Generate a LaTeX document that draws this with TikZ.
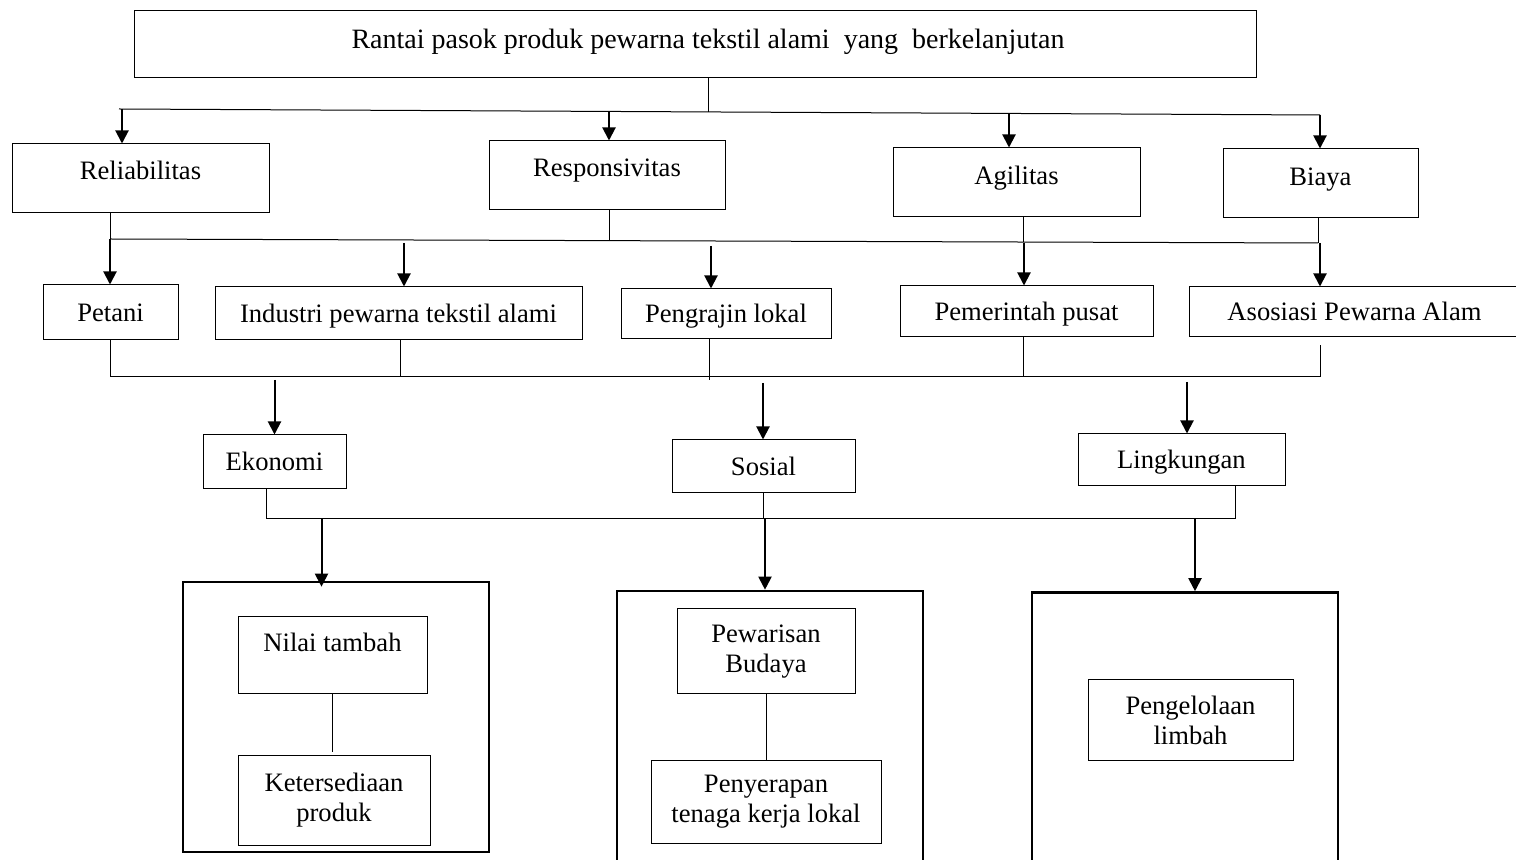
\documentclass[tikz,border=0pt]{standalone}
\usepackage{fontspec}
\setmainfont{Liberation Serif}
\usetikzlibrary{arrows.meta}

\begin{document}
\begin{tikzpicture}[x=0.5pt, y=-0.5pt, >={Triangle[width=6.5pt, length=6.5pt]},
    box/.style={draw, line width=0.5pt, inner sep=0pt, align=center, font=\fontsize{13.3}{15}\selectfont},
    single/.style={text height=10pt, text depth=1pt},
    panel/.style={draw, line width=1.3pt, inner sep=0pt},
    link/.style={line width=0.5pt},
    arr/.style={->, line width=1pt}]
                \useasboundingbox (0,0) rectangle (1516,860);
                % top
                \node[box, single, text depth=5.5pt, font=\fontsize{14}{15}\selectfont, minimum width=561pt, minimum height=33.5pt] (rantai) at (695,44.5) {\hspace*{13pt}Rantai pasok produk pewarna tekstil alami\ \ yang\ \ berkelanjutan};
                % performance
                \node[box, single, text depth=8.5pt, minimum width=128.5pt, minimum height=34.5pt] (reliab) at (140.5,178.5) {Reliabilitas};
                \node[box, single, text depth=8.5pt, minimum width=118pt, minimum height=34.5pt] (respons) at (607,175.5) {Responsivitas};
                \node[box, single, text depth=7.5pt, minimum width=123.5pt, minimum height=34.5pt] (agil) at (1016.5,182.5) {Agilitas};
                \node[box, single, text depth=7.5pt, minimum width=97.5pt, minimum height=34.5pt] (biaya) at (1320.5,183.5) {Biaya};
                % actors
                \node[box, single, minimum width=67.5pt, minimum height=27.5pt] (petani) at (110.5,312.5) {Petani};
                \node[box, single, minimum width=183.5pt, minimum height=26.5pt] (industri) at (398.5,313.5) {Industri pewarna tekstil alami};
                \node[box, single, minimum width=105pt, minimum height=25pt] (pengrajin) at (726,314) {Pengrajin lokal};
                \node[box, single, minimum width=126.5pt, minimum height=25.5pt] (pemerintah) at (1026.5,311.5) {Pemerintah pusat};
                \node[box, single, minimum width=165.5pt, minimum height=25pt] (asosiasi) at (1354.5,312) {Asosiasi Pewarna Alam};
                % aspects
                \node[box, single, minimum width=71.5pt, minimum height=27pt] (ekonomi) at (274.5,462) {Ekonomi};
                \node[box, single, minimum width=91.5pt, minimum height=26.5pt] (sosial) at (763.5,466.5) {Sosial};
                \node[box, single, minimum width=103.5pt, minimum height=26pt] (lingkungan) at (1181.5,460) {Lingkungan};
                % indicators
                \node[panel, minimum width=153pt, minimum height=135pt] (pekonomi) at (336,717) {};
                \node[panel, minimum width=153pt, minimum height=140pt] (psosial) at (770,731) {};
                \node[panel, minimum width=153pt, minimum height=139pt] (plingkungan) at (1185,731.5) {};
                \node[box, single, text depth=13.5pt, minimum width=94.5pt, minimum height=38.5pt] (nilai) at (332.5,655.5) {Nilai tambah};
                \node[box, minimum width=96pt, minimum height=44.5pt] (sedia) at (334,800.5) {Ketersediaan\\produk};
                \node[box, minimum width=89pt, minimum height=42.5pt] (waris) at (766,651.5) {Pewarisan\\Budaya};
                \node[box, minimum width=115pt, minimum height=41pt] (serap) at (766,802) {Penyerapan\\tenaga kerja lokal};
                \node[box, minimum width=102.5pt, minimum height=40.5pt] (limbah) at (1190.5,720.5) {Pengelolaan\\limbah};
                % level 1 links
                \coordinate (a0) at (708,112);
                \coordinate (a1) at (119,109);
                \coordinate (a2) at (1320,115);
                \coordinate (t1) at (122,109.2);
                \coordinate (t2) at (609,111.5);
                \coordinate (t3) at (1009,113.5);
                \coordinate (t4) at (1320,115);
                \draw[link] (rantai.south -| a0) -- (a0);
                \draw[link] (a1) -- (a2);
                \draw[arr] (t1) -- (t1 |- reliab.north);
                \draw[arr] (t2) -- (t2 |- respons.north);
                \draw[arr] (t3) -- (t3 |- agil.north);
                \draw[arr] (t4) -- (t4 |- biaya.north);
                % level 2 links
                \coordinate (b1) at (110,239);
                \coordinate (b2) at (609,240.6);
                \coordinate (b3) at (1023,242);
                \coordinate (b4) at (1318,243);
                \draw[link] (reliab.south -| b1) -- (b1);
                \draw[link] (respons.south -| b2) -- (b2);
                \draw[link] (agil.south -| b3) -- (b3);
                \draw[link] (biaya.south -| b4) -- (b4);
                \draw[link] (b1) -- (b4);
                \coordinate (u2) at (404,243);
                \coordinate (u3) at (711,246);
                \coordinate (u4) at (1024,243);
                \coordinate (u5) at (1320,243);
                \draw[arr] (b1) -- (b1 |- petani.north);
                \draw[arr] (u2) -- (u2 |- industri.north);
                \draw[arr] (u3) -- (u3 |- pengrajin.north);
                \draw[arr] (u4) -- (u4 |- pemerintah.north);
                \draw[arr] (u5) -- (u5 |- asosiasi.north);
                % level 3 links
                \coordinate (c1) at (110,377);
                \coordinate (c2) at (400,377);
                \coordinate (c3) at (709,377);
                \coordinate (c4) at (1023,377);
                \coordinate (c5) at (1320,377);
                \draw[link] (petani.south -| c1) -- (c1);
                \draw[link] (industri.south -| c2) -- (c2);
                \draw[link] (pengrajin.south -| c3) -- ([yshift=-1.5pt]c3);
                \draw[link] (pemerintah.south -| c4) -- (c4);
                \draw[link] ([yshift=-4pt]asosiasi.south -| c5) -- (c5);
                \draw[link] (c1) -- (c5);
                \coordinate (v1) at (274.5,380);
                \coordinate (v2) at (763,383);
                \coordinate (v3) at (1187,382);
                \draw[arr] (v1) -- (v1 |- ekonomi.north);
                \draw[arr] (v2) -- (v2 |- sosial.north);
                \draw[arr] (v3) -- (v3 |- lingkungan.north);
                % level 4 links
                \coordinate (d1) at (266,519);
                \coordinate (d2) at (763,519);
                \coordinate (d3) at (1235,519);
                \draw[link] (ekonomi.south -| d1) -- (d1);
                \draw[link] (sosial.south -| d2) -- (d2);
                \draw[link] (lingkungan.south -| d3) -- (d3);
                \draw[link] (d1) -- (d3);
                \coordinate (e1) at (321.5,519);
                \coordinate (e2) at (765,519);
                \coordinate (e3) at (1195,519);
                \draw[arr] (e1) -- ([yshift=-3pt]e1 |- pekonomi.north);
                \draw[arr] (e2) -- (e2 |- psosial.north);
                \draw[arr] (e3) -- (e3 |- plingkungan.north);
                % inside the panels
                \draw[link] (nilai.south) -- ([yshift=1.5pt]nilai.south |- sedia.north);
                \draw[link] (waris.south) -- (serap.north);
            \end{tikzpicture}
\end{document}
